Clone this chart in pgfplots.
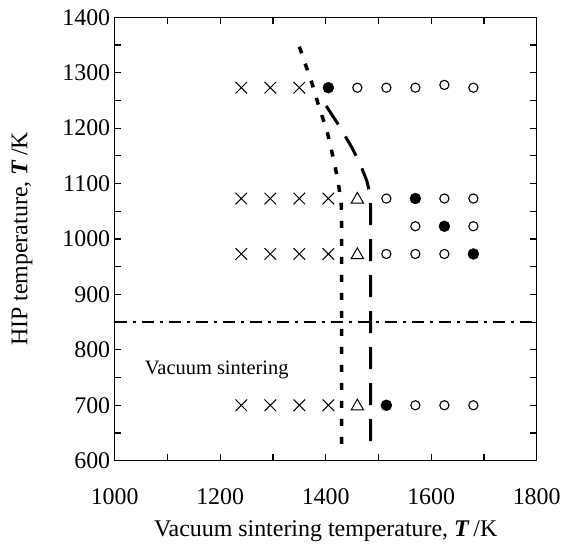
\documentclass[border=0pt]{standalone}
\usepackage{pgfplots}
\pgfplotsset{compat=1.18}
\usepackage{fontspec}
\setmainfont{Liberation Serif}
\begin{document}
\begin{tikzpicture}
\begin{axis}[
  scale only axis, width=422bp, height=443.4bp,
  xmin=1000, xmax=1800, ymin=600, ymax=1400,
  xtick={1000,1200,...,1800}, minor xtick={1100,1300,1500,1700},
  ytick={600,700,...,1400}, minor ytick={650,750,...,1350},
  tick align=inside, tick pos=both,
  xticklabel pos=bottom, yticklabel pos=left,
  major tick length=6.5bp, minor tick length=6.5bp,
  every tick/.style={line width=1.2bp, black},
  axis line style={line width=1.5bp},
  /pgf/number format/assume math mode=true,
  /pgf/number format/set thousands separator={},
  ticklabel style={font=\fontsize{24}{28}\selectfont},
  xticklabel style={yshift=-24bp},
  yticklabel style={xshift=-1bp},
  label style={font=\fontsize{24}{28}\selectfont},
  xlabel={Vacuum sintering temperature, \textbf{\textit{T}}\,/K},
  ylabel={HIP temperature, \textbf{\textit{T}}\,/K},
  xlabel style={at={(rel axis cs:0.5,0)}, anchor=base, yshift=-76bp},
  ylabel style={at={(rel axis cs:0,0.5)}, anchor=center, yshift=92.7bp},
  clip=false,
]
% phase boundary lines
\addplot[black, line width=3.5bp, dash pattern=on 7bp off 11bp] coordinates {
 (1350,1347) (1363,1311) (1375,1278) (1388,1236) (1402,1197) (1411,1160)
 (1418,1130) (1424,1100) (1429,1070) (1430,1050) (1430,620)};
\addplot[black, line width=3bp, dash pattern=on 22bp off 14bp] coordinates {
 (1401,1240) (1427,1202) (1449,1166) (1465,1136) (1478,1105) (1484,1080)
 (1485,1060) (1485,620)};
\addplot[black, line width=2bp, dash pattern=on 12bp off 6bp on 3bp off 6bp] coordinates {
 (1000,850) (1800,850)};
% crosses
\addplot[only marks, mark=x, mark size=8.2bp, mark options={line width=1bp, black}] coordinates {
 (1240,1273) (1295,1273) (1350,1273)
 (1240,1073) (1295,1073) (1350,1073) (1405,1073)
 (1240,973) (1295,973) (1350,973) (1405,973)
 (1240,700) (1295,700) (1350,700) (1405,700)};
% triangles
\addplot[only marks, mark=triangle, mark size=7.2bp, mark options={line width=1bp, black}] coordinates {
 (1460,1071) (1460,971) (1460,698)};
% open circles
\addplot[only marks, mark=o, mark size=4.6bp, mark options={line width=1.1bp, black}] coordinates {
 (1460,1273) (1515,1273) (1570,1273) (1625,1278) (1680,1273)
 (1515,1073) (1625,1073) (1680,1073)
 (1570,1023) (1680,1023)
 (1515,973) (1570,973) (1625,973)
 (1570,700) (1625,700) (1680,700)};
% filled circles
\addplot[only marks, mark=*, mark size=5.5bp, mark options={black, fill=black}] coordinates {
 (1405,1273) (1570,1073) (1625,1023) (1680,973) (1515,700)};
\node[anchor=west, inner sep=0, font=\fontsize{20.5}{24}\selectfont] at (axis cs:1057,763) {Vacuum sintering};
\end{axis}
\pgfresetboundingbox
\path ([shift={(-114.7bp,-89.3bp)}]current axis.south west) rectangle ([shift={(26.3bp,17.3bp)}]current axis.north east);
\end{tikzpicture}
\end{document}
